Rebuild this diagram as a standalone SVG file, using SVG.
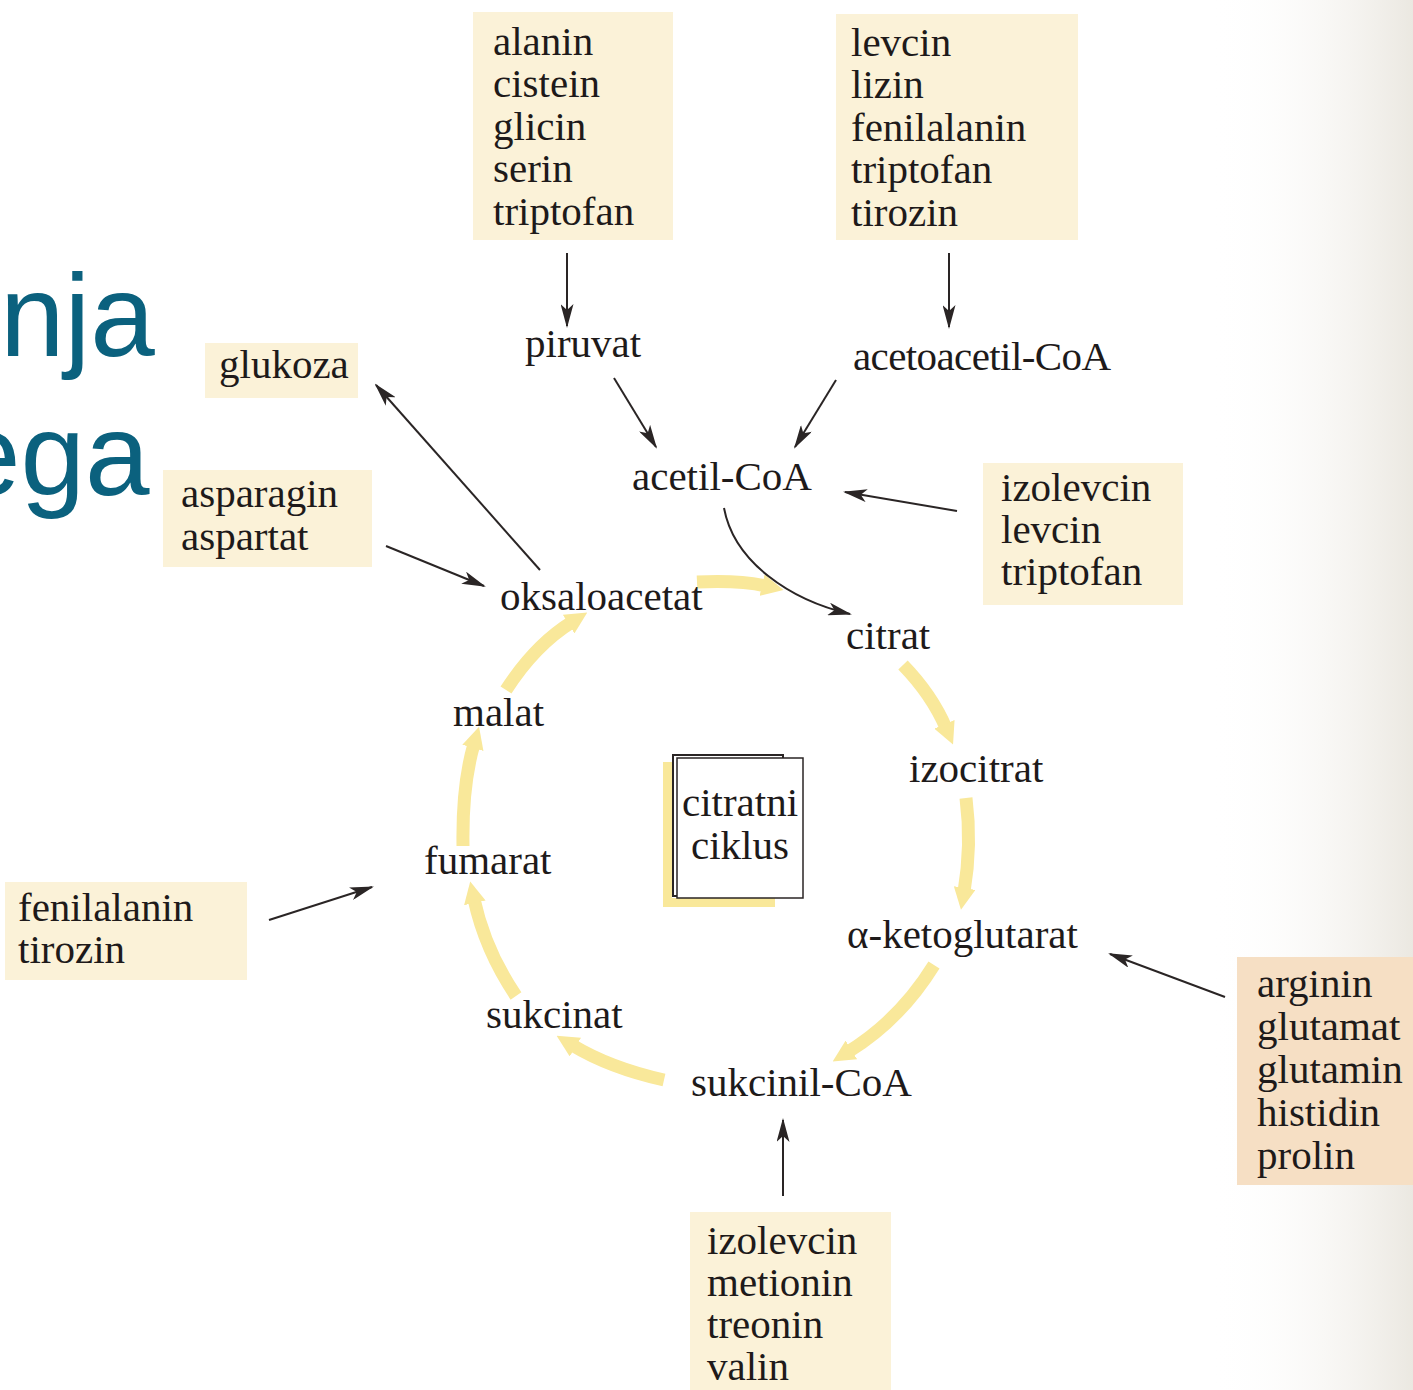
<svg xmlns="http://www.w3.org/2000/svg" width="1413" height="1390" viewBox="0 0 1413 1390">
  <defs>
    <style>
      .t { font-family: "Liberation Serif", "Times New Roman", serif; font-size: 41px; fill: #1e1a1a; }
      .c { text-anchor: middle; }
      .box { fill: #fbf2d8; }
      .boxo { fill: #f6dfc4; }
      .big { font-family: "Liberation Sans", Arial, sans-serif; font-size: 116px; fill: #0b617e; }
      .dk { fill: none; stroke: #2a2525; stroke-width: 2; marker-end: url(#dh); }
      .yl { fill: none; stroke: #f9e89a; stroke-width: 13; marker-end: url(#yh); }
    </style>
    <marker id="dh" markerUnits="userSpaceOnUse" viewBox="0 0 24 13" markerWidth="24" markerHeight="13" refX="22" refY="6.5" orient="auto">
      <path d="M0,0 L24,6.5 L0,13 L6,6.5 z" fill="#2a2525"/>
    </marker>
    <marker id="yh" markerUnits="userSpaceOnUse" viewBox="0 0 22 22" markerWidth="22" markerHeight="22" refX="4" refY="11" orient="auto">
      <path d="M0,0 L22,11 L0,22 z" fill="#f9e89a"/>
    </marker>
    <linearGradient id="edge" x1="0" y1="0" x2="1" y2="0">
      <stop offset="0" stop-color="#ffffff" stop-opacity="0"/>
      <stop offset="1" stop-color="#ebe8e1"/>
    </linearGradient>
  </defs>

  <!-- page -->
  <rect width="1413" height="1390" fill="#ffffff"/>
  <rect x="1210" y="0" width="203" height="1390" fill="url(#edge)"/>

  <!-- heading fragment, running off the left edge -->
  <text class="big" x="0" y="356">nja</text>
  <text class="big" x="-44" y="495">ega</text>

  <!-- connectors -->
  <g id="connectors">
    <!-- cycle arrows -->
    <path class="yl" d="M697,582 Q740,580 766,586"/>
    <path class="yl" d="M903,665 Q932,695 946,728"/>
    <path class="yl" d="M966,798 Q972,845 964,892"/>
    <path class="yl" d="M934,965 Q900,1020 848,1052"/>
    <path class="yl" d="M664,1080 Q610,1068 572,1045"/>
    <path class="yl" d="M516,996 Q485,950 474,899"/>
    <path class="yl" d="M463,846 Q462,785 474,744"/>
    <path class="yl" d="M506,690 Q535,645 572,622"/>

    <!-- feeder arrows -->
    <path class="dk" d="M567,253 L567,326"/>
    <path class="dk" d="M949,253 L949,327"/>
    <path class="dk" d="M614,378 L656,447"/>
    <path class="dk" d="M836,380 L795,447"/>
    <path class="dk" d="M957,511 L845,492"/>
    <path class="dk" d="M724,508 C734,562 790,600 850,614"/>
    <path class="dk" d="M540,570 L376,385"/>
    <path class="dk" d="M386,546 L484,586"/>
    <path class="dk" d="M269,920 L372,887"/>
    <path class="dk" d="M1225,997 L1110,954"/>
    <path class="dk" d="M783,1196 L783,1120"/>
  </g>

  <!-- source amino acid groups -->
  <g id="n-top-left">
    <rect class="box" x="473" y="12" width="200" height="228"/>
    <text class="t" x="493" y="55">alanin</text>
    <text class="t" x="493" y="97">cistein</text>
    <text class="t" x="493" y="140">glicin</text>
    <text class="t" x="493" y="182">serin</text>
    <text class="t" x="493" y="225">triptofan</text>
  </g>
  <g id="n-top-right">
    <rect class="box" x="836" y="14" width="242" height="226"/>
    <text class="t" x="851" y="56">levcin</text>
    <text class="t" x="851" y="98">lizin</text>
    <text class="t" x="851" y="141">fenilalanin</text>
    <text class="t" x="851" y="183">triptofan</text>
    <text class="t" x="851" y="226">tirozin</text>
  </g>
  <g id="n-glukoza">
    <rect class="box" x="205" y="343" width="153" height="55"/>
    <text class="t" x="219" y="378">glukoza</text>
  </g>
  <g id="n-asparagin">
    <rect class="box" x="163" y="470" width="209" height="97"/>
    <text class="t" x="181" y="507">asparagin</text>
    <text class="t" x="181" y="550">aspartat</text>
  </g>
  <g id="n-izolevcin-top">
    <rect class="box" x="983" y="463" width="200" height="142"/>
    <text class="t" x="1001" y="501">izolevcin</text>
    <text class="t" x="1001" y="543">levcin</text>
    <text class="t" x="1001" y="585">triptofan</text>
  </g>
  <g id="n-fenilalanin">
    <rect class="box" x="5" y="882" width="242" height="98"/>
    <text class="t" x="18" y="921">fenilalanin</text>
    <text class="t" x="18" y="963">tirozin</text>
  </g>
  <g id="n-arginin">
    <rect class="boxo" x="1237" y="957" width="176" height="228"/>
    <text class="t" x="1257" y="997">arginin</text>
    <text class="t" x="1257" y="1040">glutamat</text>
    <text class="t" x="1257" y="1083">glutamin</text>
    <text class="t" x="1257" y="1126">histidin</text>
    <text class="t" x="1257" y="1169">prolin</text>
  </g>
  <g id="n-izolevcin-bottom">
    <rect class="box" x="690" y="1212" width="201" height="178"/>
    <text class="t" x="707" y="1254">izolevcin</text>
    <text class="t" x="707" y="1296">metionin</text>
    <text class="t" x="707" y="1338">treonin</text>
    <text class="t" x="707" y="1380">valin</text>
  </g>

  <!-- intermediates -->
  <g id="n-piruvat"><text class="t" x="525" y="357">piruvat</text></g>
  <g id="n-acetoacetil"><text class="t" x="853" y="370" textLength="258">acetoacetil-CoA</text></g>
  <g id="n-acetil"><text class="t" x="632" y="490">acetil-CoA</text></g>
  <g id="n-oksaloacetat"><text class="t" x="500" y="610">oksaloacetat</text></g>
  <g id="n-citrat"><text class="t" x="846" y="649">citrat</text></g>
  <g id="n-izocitrat"><text class="t" x="909" y="782">izocitrat</text></g>
  <g id="n-malat"><text class="t" x="453" y="726">malat</text></g>
  <g id="n-fumarat"><text class="t" x="424" y="874">fumarat</text></g>
  <g id="n-ketoglutarat"><text class="t" x="847" y="948">α-ketoglutarat</text></g>
  <g id="n-sukcinat"><text class="t" x="486" y="1028">sukcinat</text></g>
  <g id="n-sukcinil"><text class="t" x="691" y="1096">sukcinil-CoA</text></g>

  <!-- centre label card -->
  <g id="n-ciklus">
    <rect x="663" y="762" width="9" height="145" fill="#f9e89a"/>
    <rect x="663" y="898" width="112" height="9" fill="#f9e89a"/>
    <rect x="673" y="755" width="110" height="141" fill="#ffffff" stroke="#2a2525" stroke-width="2"/>
    <rect x="677" y="758" width="126" height="140" fill="#ffffff" stroke="#2a2525" stroke-width="1.5"/>
    <text class="t c" x="740" y="816">citratni</text>
    <text class="t c" x="740" y="859">ciklus</text>
  </g>
</svg>
